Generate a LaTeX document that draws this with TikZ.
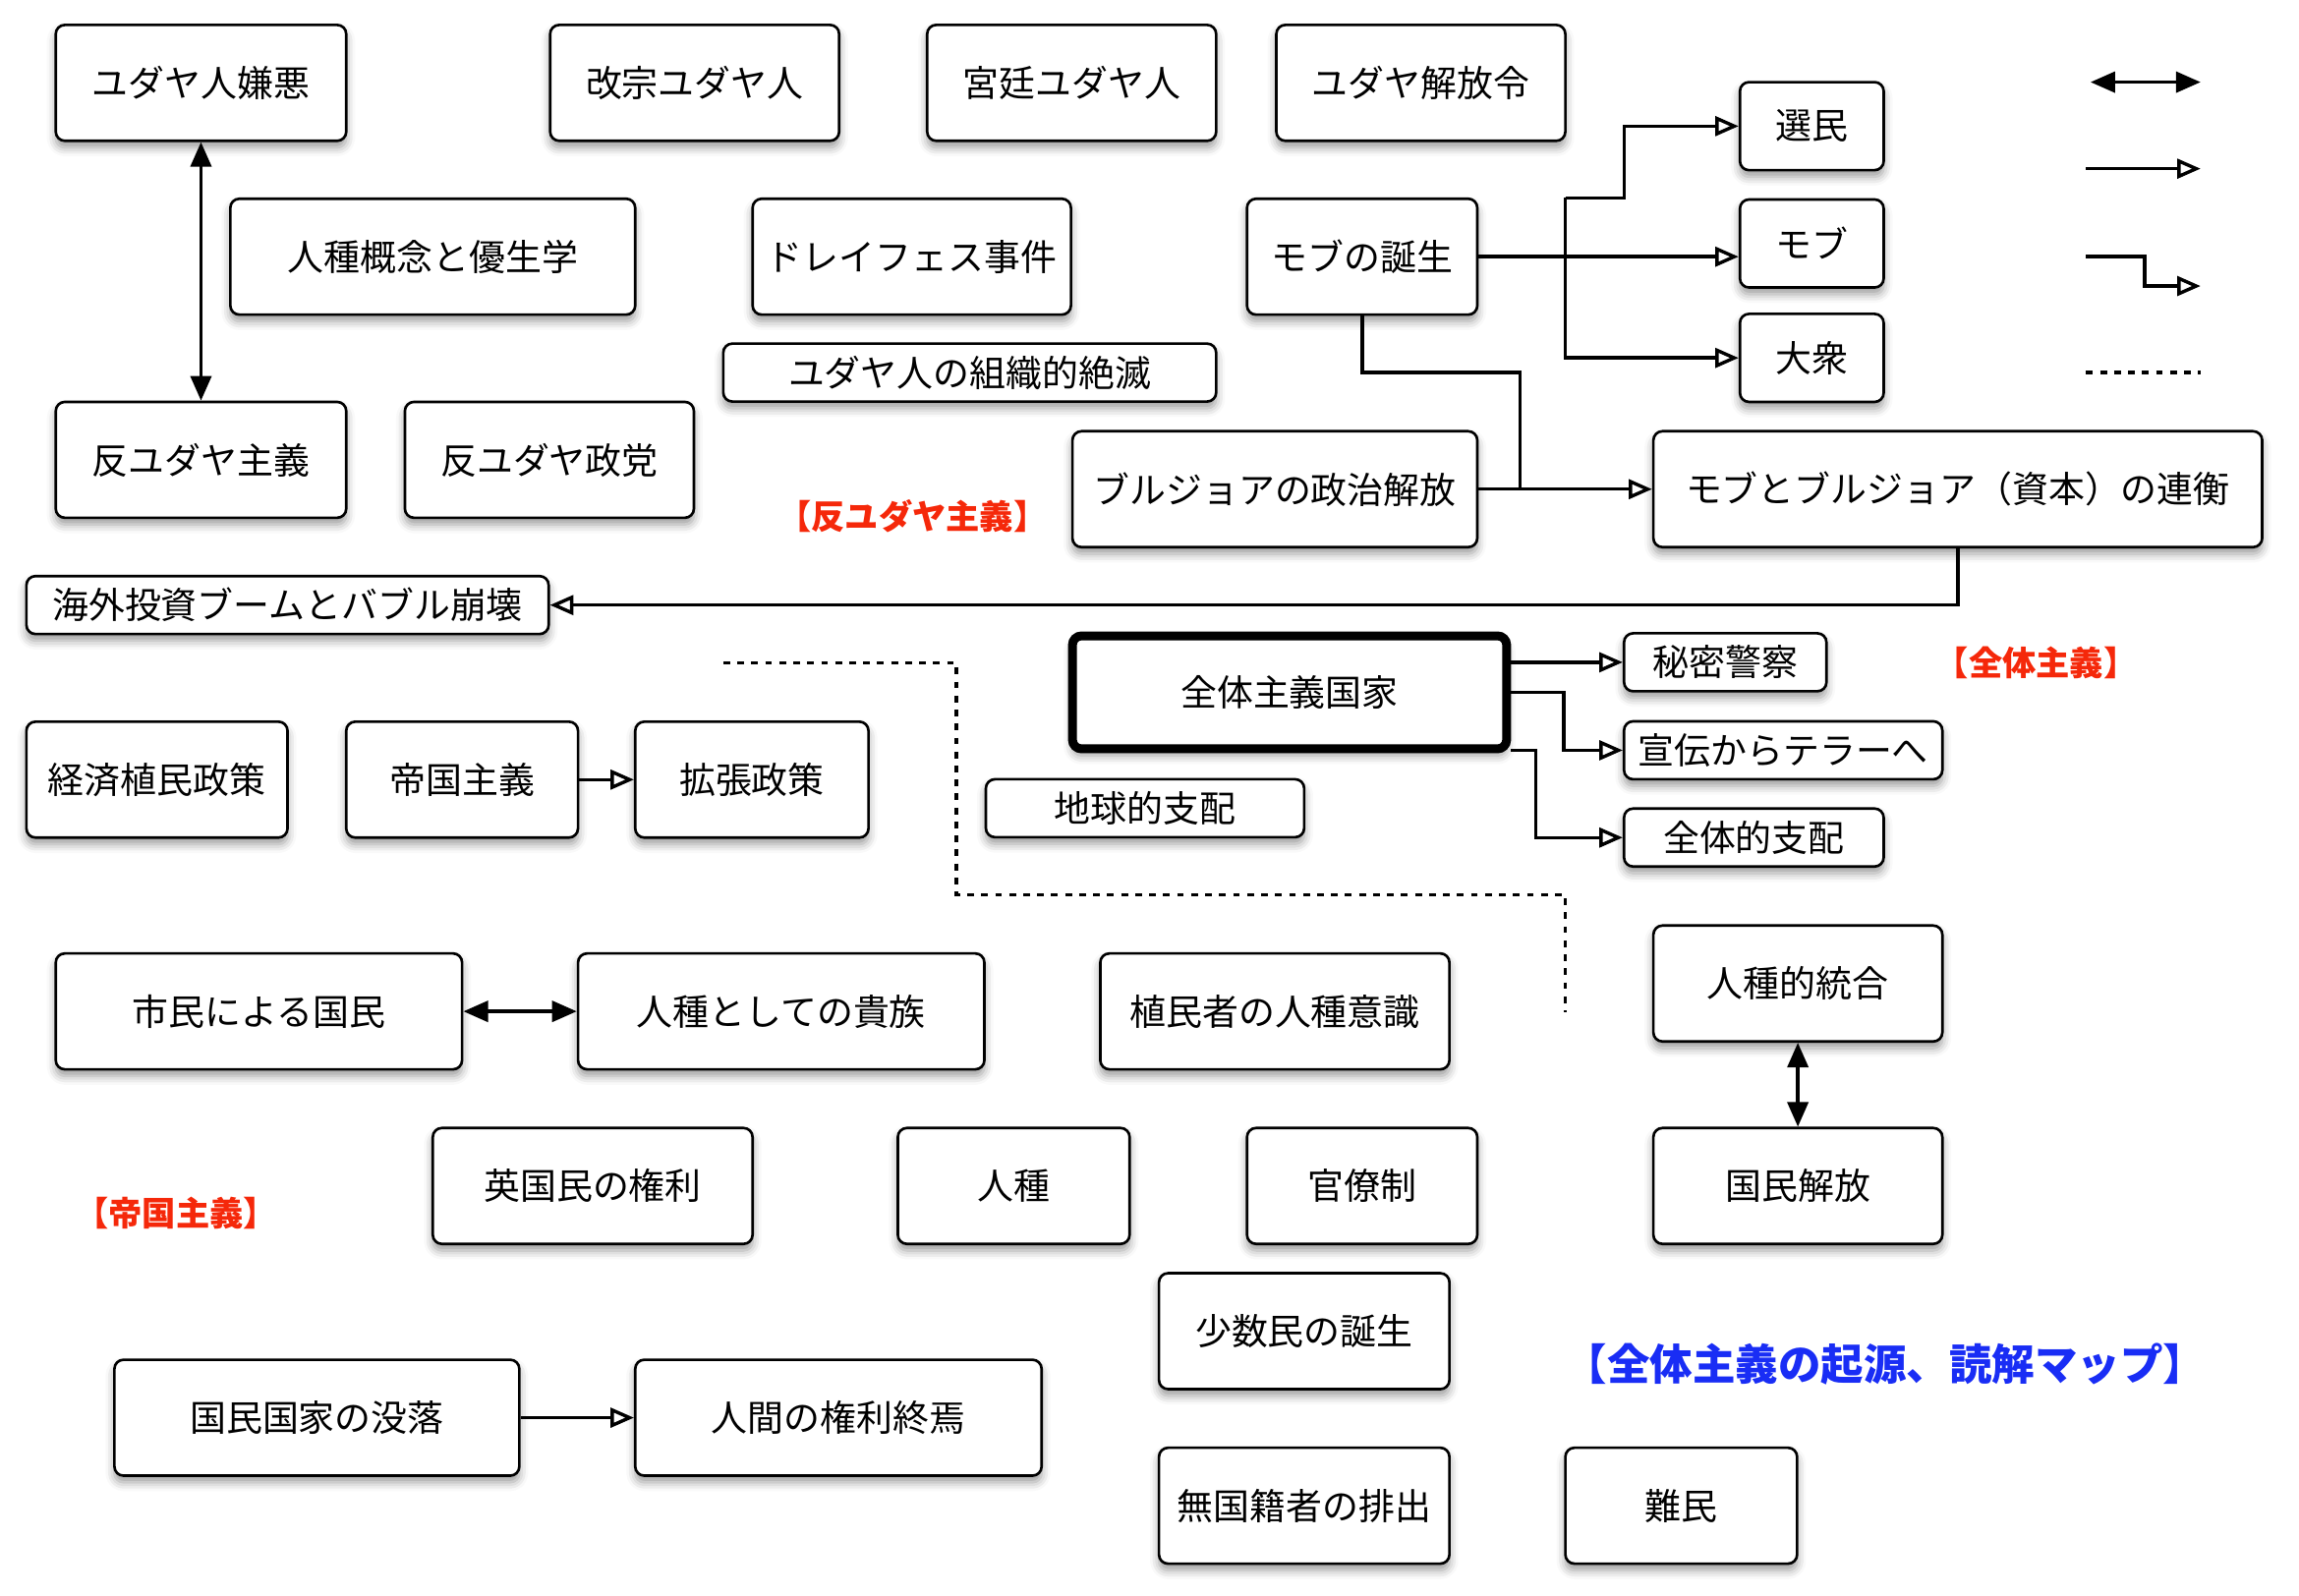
\documentclass[tikz,border=0pt]{standalone}
\usepackage{fontspec}
\setmainfont{Noto Sans CJK JP}
\definecolor{labelred}{RGB}{245, 40, 10}
\definecolor{titleblue}{RGB}{25, 45, 245}
\usepackage{tikz}
\usetikzlibrary{shapes, arrows.meta, positioning, calc, shadows.blur}

\begin{document}
\begin{tikzpicture}[
  x=0.0199cm, y=-0.0199cm,
  boxw/.style={minimum width=#1*0.0199cm},
  boxh/.style={minimum height=#1*0.0199cm},
  mapbox/.style={draw, rounded corners=3.5pt, fill=white, line width=1pt, boxh=79, inner sep=2pt, font=\fontsize{14}{16}\selectfont,
    blur shadow={shadow xshift=0pt, shadow yshift=-0.09cm, shadow blur radius=0.12cm, shadow opacity=40}},
  slimbox/.style={mapbox, boxh=39.5},
  arr/.style={-{Triangle[open, length=9pt, width=7.5pt]}, line width=1.3pt},
  dbl/.style={{Triangle[length=9.5pt, width=8pt]}-{Triangle[length=9.5pt, width=8pt]}, line width=1.3pt},
  conn/.style={line width=1.3pt},
  border/.style={line width=1.3pt, dash pattern=on 2.6pt off 2.8pt},
  grouplabel/.style={font=\bfseries\fontsize{13}{15}\selectfont, text=labelred}
]
  \useasboundingbox (0,0) rectangle (1567.1,1087.4);

  % anti-semitism
  \node[mapbox, boxw=198] (jewhate) at (137,56.5) {ユダヤ人嫌悪};
  \node[mapbox, boxw=197] (converts) at (473.5,56.5) {改宗ユダヤ人};
  \node[mapbox, boxw=197] (courtjews) at (730.5,56.5) {宮廷ユダヤ人};
  \node[mapbox, boxw=197] (edict) at (968.5,56.5) {ユダヤ解放令};
  \node[mapbox, boxw=276] (eugenics) at (295,175) {人種概念と優生学};
  \node[mapbox, boxw=217] (dreyfus) at (621.5,175) {ドレイフェス事件};
  \node[slimbox, boxw=336] (holocaust) at (661,254) {ユダヤ人の組織的絶滅};
  \node[mapbox, boxw=157] (mobbirth) at (928.5,175) {モブの誕生};
  \node[mapbox, boxw=98, boxh=60] (chosen) at (1235,86) {選民};
  \node[mapbox, boxw=98, boxh=60] (mob) at (1235,166) {モブ};
  \node[mapbox, boxw=98, boxh=60] (masses) at (1235,244) {大衆};
  \node[mapbox, boxw=198] (antisem) at (137,313.5) {反ユダヤ主義};
  \node[mapbox, boxw=197] (party) at (374.5,313.5) {反ユダヤ政党};
  \node[mapbox, boxw=276] (bourgeois) at (869,333.5) {ブルジョアの政治解放};
  \node[mapbox, boxw=415] (alliance) at (1334.5,333.5) {モブとブルジョア（資本）の連衡};
  \node[grouplabel] (lblantisem) at (622,352) {【反ユダヤ主義】};

  % imperialism
  \node[slimbox, boxw=356] (bubble) at (196,412.5) {海外投資ブームとバブル崩壊};
  \node[mapbox, boxw=178] (colecon) at (107,531.5) {経済植民政策};
  \node[mapbox, boxw=158] (imperial) at (315,531.5) {帝国主義};
  \node[mapbox, boxw=159] (expansion) at (512.5,531.5) {拡張政策};
  \node[slimbox, boxw=217] (globalrule) at (780.5,551) {地球的支配};
  \node[mapbox, boxw=277] (citizen) at (176.5,689.5) {市民による国民};
  \node[mapbox, boxw=277] (aristo) at (532.5,689.5) {人種としての貴族};
  \node[mapbox, boxw=238] (settlers) at (869,689.5) {植民者の人種意識};
  \node[mapbox, boxw=218] (british) at (404,808.5) {英国民の権利};
  \node[mapbox, boxw=158] (race) at (691,808.5) {人種};
  \node[mapbox, boxw=157] (bureau) at (928.5,808.5) {官僚制};
  \node[mapbox, boxw=198] (minority) at (889,907.5) {少数民の誕生};
  \node[mapbox, boxw=276] (nsdecline) at (216,966.5) {国民国家の没落};
  \node[mapbox, boxw=277] (rightsend) at (571.5,966.5) {人間の権利終焉};
  \node[mapbox, boxw=198] (stateless) at (889,1026.5) {無国籍者の排出};
  \node[mapbox, boxw=158] (refugees) at (1146,1026.5) {難民};
  \node[mapbox, boxw=197] (raceunity) at (1225.5,670.5) {人種的統合};
  \node[mapbox, boxw=197] (natlib) at (1225.5,808.5) {国民解放};
  \node[grouplabel] (lblimperial) at (120,827) {【帝国主義】};

  % totalitarianism
  \node[mapbox, boxw=296, boxh=77, line width=3.4pt] (totstate) at (879,472) {全体主義国家};
  \node[slimbox, boxw=138] (police) at (1176,451.5) {秘密警察};
  \node[slimbox, boxw=217] (terror) at (1215.5,511.5) {宣伝からテラーへ};
  \node[slimbox, boxw=177] (totalrule) at (1195.5,571) {全体的支配};
  \node[grouplabel] (lbltotal) at (1388,452) {【全体主義】};
  \node[font=\bfseries\fontsize{16.5}{19}\selectfont, text=titleblue] (title) at (1285,930) {【全体主義の起源、読解マップ】};

  % connectors
  \coordinate (mobsplit) at (1067,135);
  \coordinate (mobdown) at (1036,254);
  \coordinate (statebend) at (1066,472);
  \coordinate (stateleft) at (1047,511.5);
  \draw[dbl] (jewhate) -- (antisem);
  \draw[arr] (mobbirth.east) -- (mobbirth.east -| mob.west);
  \draw[arr] (mobsplit) |- (masses.west);
  \draw[arr] (mobsplit) -- ++(40,0) |- (chosen.west);
  \draw[conn] (mobbirth.south) |- (mobdown) -- (mobdown |- bourgeois.east);
  \draw[arr] (bourgeois) -- (alliance);
  \draw[arr] (alliance.south) |- (bubble.east);
  \draw[arr] (totstate.east |- police.west) -- (police.west);
  \draw[arr] (totstate.east) -- (statebend) |- (terror.west);
  \draw[arr] (totstate.east |- stateleft) -- (stateleft) |- (totalrule.west);
  \draw[arr] (imperial) -- (expansion);
  \draw[dbl] (citizen) -- (aristo);
  \draw[dbl] (raceunity) -- (natlib);
  \draw[arr] (nsdecline) -- (rightsend);

  % boundary
  \draw[border] (493,452) -- (652,452) -- (652,610) -- (1067,610) -- (1067,690);

  % legend
  \coordinate (keyA1) at (1425,56);  \coordinate (keyA2) at (1500,56);
  \coordinate (keyB1) at (1422,115); \coordinate (keyB2) at (1500,115);
  \coordinate (keyC1) at (1422,175); \coordinate (keyC2) at (1500,195);
  \coordinate (keyD1) at (1422,254); \coordinate (keyD2) at (1500,254);
  \draw[dbl] (keyA1) -- (keyA2);
  \draw[arr] (keyB1) -- (keyB2);
  \draw[arr] (keyC1) -- ++(40,0) |- (keyC2);
  \draw[border] (keyD1) -- (keyD2);
\end{tikzpicture}
\end{document}
